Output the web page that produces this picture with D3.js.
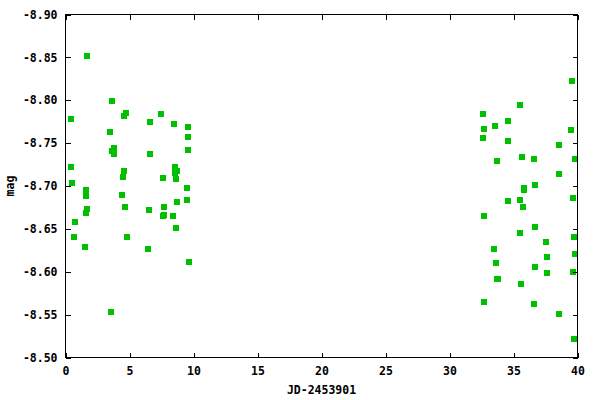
<!DOCTYPE html>
<html>
<head>
<meta charset="utf-8">
<script src="https://cdn.jsdelivr.net/npm/d3@7"></script>
<style>
  html, body { margin: 0; padding: 0; background: #fff; }
  svg { display: block; }
  text { font-family: "DejaVu Sans Mono", "Liberation Mono", monospace; font-weight: bold; font-size: 11.5px; fill: #000; }
</style>
</head>
<body>
<svg id="chart" width="600" height="400"></svg>
<script>
// Julian day offset (JD-2453901)
const jd = [
  1.67, 0.42, 3.62, 4.71, 4.56, 7.45, 6.59, 8.44, 9.56, 9.56,
  9.56, 3.46, 3.78, 3.62, 3.78, 6.59, 0.42, 4.56, 4.48, 8.54,
  8.70, 8.54, 8.62, 7.60, 0.49, 1.59, 1.59, 4.40, 9.48, 9.48,
  4.63, 1.59, 1.67, 0.73, 0.65, 1.51, 3.54, 6.51, 7.68, 7.68,
  7.60, 8.38, 8.70, 8.62, 4.79, 6.43, 9.64,
  35.49, 32.60, 34.55, 33.54, 32.68, 32.60, 34.55, 39.48, 38.54, 35.65,
  36.59, 33.70, 39.79, 38.54, 36.66, 35.80, 35.80, 39.63, 34.55, 35.49,
  35.73, 32.68, 36.66, 35.49, 37.52, 39.71, 33.46, 37.60, 39.79, 33.62,
  36.66, 37.60, 39.63, 33.70, 33.78, 35.57, 32.68, 36.59, 38.54, 39.71,
  39.56
];
// magnitudes
const mag = [
  -8.852, -8.778, -8.799, -8.785, -8.782, -8.784, -8.775, -8.772, -8.769, -8.757,
  -8.742, -8.763, -8.744, -8.741, -8.737, -8.737, -8.722, -8.718, -8.710, -8.722,
  -8.718, -8.715, -8.708, -8.709, -8.703, -8.695, -8.688, -8.689, -8.698, -8.684,
  -8.675, -8.669, -8.673, -8.658, -8.640, -8.629, -8.553, -8.672, -8.675, -8.666,
  -8.665, -8.665, -8.681, -8.651, -8.640, -8.627, -8.611,
  -8.794, -8.784, -8.776, -8.770, -8.767, -8.756, -8.753, -8.765, -8.748, -8.734,
  -8.732, -8.729, -8.731, -8.714, -8.701, -8.698, -8.695, -8.686, -8.682, -8.684,
  -8.676, -8.665, -8.652, -8.645, -8.635, -8.640, -8.626, -8.617, -8.621, -8.610,
  -8.605, -8.599, -8.600, -8.592, -8.591, -8.586, -8.565, -8.562, -8.551, -8.521,
  -8.822
];
const xTicks = [0, 5, 10, 15, 20, 25, 30, 35, 40];
const xTickLabels = ["0", "5", "10", "15", "20", "25", "30", "35", "40"];
const yTicks = [-8.90, -8.85, -8.80, -8.75, -8.70, -8.65, -8.60, -8.55, -8.50];
const yTickLabels = ["-8.90", "-8.85", "-8.80", "-8.75", "-8.70", "-8.65", "-8.60", "-8.55", "-8.50"];
const xLabel = "JD-2453901";
const yLabel = "mag";

(function () {
const svg = d3.select("#chart");
const pLeft = 65.5, pRight = 577.5, pTop = 14.5, pBottom = 357.5;

const x = d3.scaleLinear().domain([0, 40]).range([pLeft, pRight]);
const y = d3.scaleLinear().domain([-8.90, -8.50]).range([pTop, pBottom]);

// points
svg.append("g")
  .selectAll("rect")
  .data(jd.map((d, i) => [d, mag[i]]))
  .join("rect")
  .attr("x", d => Math.round(x(d[0]) - 3))
  .attr("y", d => Math.round(y(d[1]) - 3))
  .attr("width", 6)
  .attr("height", 6)
  .attr("fill", "#00c000")
  .attr("shape-rendering", "crispEdges");

function styleAxis(g) {
  g.select(".domain").remove();
  g.selectAll(".tick line").attr("stroke", "#000").attr("shape-rendering", "crispEdges");
  g.selectAll("text").attr("font-family", null).attr("font-size", null).attr("fill", "#000");
}

const xfmt = d => xTickLabels[xTicks.indexOf(d)];
const yfmt = d => yTickLabels[yTicks.indexOf(d)];

svg.append("g").attr("transform", `translate(0,${pBottom})`)
  .call(d3.axisBottom(x).tickValues(xTicks).tickFormat(xfmt).tickSizeInner(-5).tickSizeOuter(0).tickPadding(9))
  .call(styleAxis);
svg.append("g").attr("transform", `translate(0,${pTop})`)
  .call(d3.axisTop(x).tickValues(xTicks).tickFormat("").tickSizeInner(-5).tickSizeOuter(0))
  .call(styleAxis);
svg.append("g").attr("transform", `translate(${pLeft},0)`)
  .call(d3.axisLeft(y).tickValues(yTicks).tickFormat(yfmt).tickSizeInner(-5).tickSizeOuter(0).tickPadding(8))
  .call(styleAxis);
svg.append("g").attr("transform", `translate(${pRight},0)`)
  .call(d3.axisRight(y).tickValues(yTicks).tickFormat("").tickSizeInner(-5).tickSizeOuter(0))
  .call(styleAxis);

// frame
svg.append("rect")
  .attr("x", pLeft).attr("y", pTop)
  .attr("width", pRight - pLeft).attr("height", pBottom - pTop)
  .attr("fill", "none").attr("stroke", "#000").attr("stroke-width", 1)
  .attr("shape-rendering", "crispEdges");

svg.append("text")
  .attr("x", (pLeft + pRight) / 2).attr("y", 394)
  .attr("text-anchor", "middle")
  .text(xLabel);

svg.append("text")
  .attr("transform", `translate(14,${(pTop + pBottom) / 2}) rotate(-90)`)
  .attr("text-anchor", "middle")
  .text(yLabel);
})();
</script>
</body>
</html>
